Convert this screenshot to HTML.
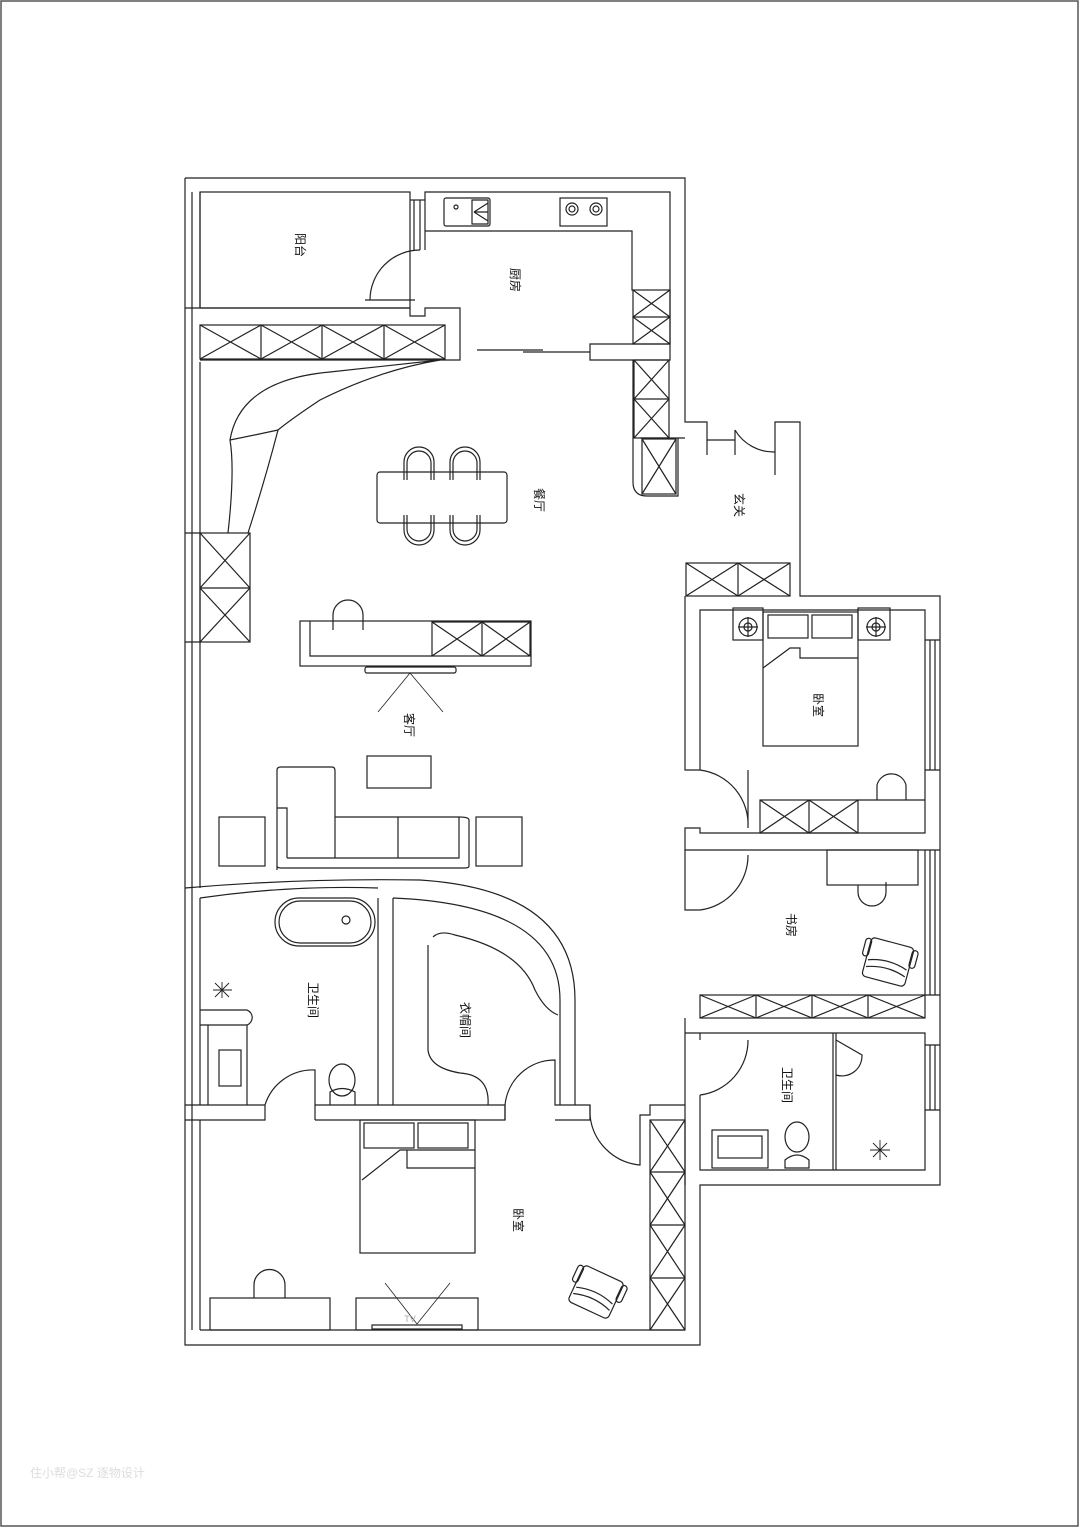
<!DOCTYPE html>
<html><head><meta charset="utf-8"><style>
html,body{margin:0;padding:0;background:#fff;}
svg{display:block;}
text{font-family:"Liberation Sans","Noto Sans CJK SC",sans-serif;font-size:12px;fill:#111;}
</style></head><body>
<svg width="1080" height="1528" viewBox="0 0 1080 1528" xmlns="http://www.w3.org/2000/svg">
<rect x="0" y="0" width="1080" height="1528" fill="#fff"/>
<g fill="none" stroke="#222" stroke-width="1.2">
<path d="M185 178 H685 V422 H707 V440 H735"/>
<path d="M775 440 V422 H800 V596 H940 V1185 H700 V1345 H185 V178"/>
<line x1="192" y1="192" x2="192" y2="1330"/><line x1="200" y1="192" x2="200" y2="308"/>
<line x1="200" y1="362" x2="200" y2="888"/><line x1="200" y1="898" x2="200" y2="1105"/><line x1="200" y1="1120" x2="200" y2="1330"/>
<rect x="200" y="192" width="210" height="116"/>
<line x1="410" y1="200" x2="425" y2="200"/><line x1="414" y1="200" x2="414" y2="250"/><line x1="420" y1="200" x2="420" y2="250"/>
<path d="M370 300 A50 50 0 0 1 420 250"/>
<line x1="365" y1="300" x2="415" y2="300"/>
<path d="M425 250 V192 H670 V344"/>
<path d="M425 231 H632 V290 H633"/>
<rect x="633" y="290" width="37" height="54"/>
<path d="M633 290 L670 317 M670 290 L633 317 M633 317 L670 344 M670 317 L633 344 M633 317 H670"/>
<rect x="444" y="198" width="46" height="28" rx="2"/><circle cx="456" cy="207" r="2"/>
<path d="M472 200 H488 V224 H472 Z M474 212 L488 203 M474 212 L488 221 M474 212 H488"/>
<rect x="560" y="198" width="47" height="28"/><circle cx="572" cy="209" r="6"/><circle cx="572" cy="209" r="3"/><circle cx="596" cy="209" r="6"/><circle cx="596" cy="209" r="3"/>
<path d="M185 308 H410 V316 H425 V308 H460 V360 H200"/>
<rect x="200" y="325" width="245" height="34"/>
<line x1="261" y1="325" x2="261" y2="359"/><line x1="322" y1="325" x2="322" y2="359"/><line x1="384" y1="325" x2="384" y2="359"/>
<path d="M200 325 L261 359 M261 325 L200 359 M261 325 L322 359 M322 325 L261 359 M322 325 L384 359 M384 325 L322 359 M384 325 L445 359 M445 325 L384 359"/>
<path d="M477 350 H543 M523 352 H590 M590 344 H670 V360 H590 Z"/>
<rect x="634" y="360" width="35" height="78"/><line x1="634" y1="399" x2="669" y2="399"/>
<path d="M634 360 L669 399 M669 360 L634 399 M634 399 L669 438 M669 399 L634 438"/>
<path d="M633 360 V482 Q633 496 647 496 H678 V438 H685 M640 438 H678 V496"/>
<rect x="642" y="439" width="34" height="55"/><path d="M642 439 L676 494 M676 439 L642 494"/>
<path d="M707 440 V455 M735 430 A45 45 0 0 0 775 452 M735 430 V455 M775 440 V475"/>
<rect x="686" y="563" width="104" height="33"/><line x1="738" y1="563" x2="738" y2="596"/>
<path d="M686 563 L738 596 M738 563 L686 596 M738 563 L790 596 M790 563 L738 596"/>
<path d="M685 596 V770 H700 V610 H925 V833 H700 V828 H685 V850 H700 V850 H925 V995"/>
<path d="M925 640 H940 M925 770 H940 M930 640 V770 M935 640 V770"/>
<path d="M700 770 A55 55 0 0 1 748 828 M748 828 V770"/>
<rect x="733" y="608" width="30" height="32"/><circle cx="748" cy="627" r="9"/><circle cx="748" cy="627" r="4"/><line x1="738" y1="627" x2="758" y2="627"/><line x1="748" y1="617" x2="748" y2="637"/>
<rect x="858" y="608" width="32" height="32"/><circle cx="876" cy="627" r="9"/><circle cx="876" cy="627" r="4"/><line x1="866" y1="627" x2="886" y2="627"/><line x1="876" y1="617" x2="876" y2="637"/>
<rect x="763" y="612" width="95" height="134"/>
<rect x="768" y="615" width="40" height="23"/><rect x="812" y="615" width="40" height="23"/>
<path d="M763 668 L790 648 H800 V658 H858"/>
<rect x="760" y="800" width="98" height="33"/><line x1="809" y1="800" x2="809" y2="833"/>
<path d="M760 800 L809 833 M809 800 L760 833 M809 800 L858 833 M858 800 L809 833 M858 800 H925"/>
<path d="M877 800 V785 A15 15 0 0 1 906 785 V800"/>
<path d="M685 850 V910 H700 M700 910 A55 55 0 0 0 748 855"/>
<rect x="827" y="850" width="91" height="35"/>
<path d="M858 885 V892 A14 14 0 0 0 886 892 V882"/>
<g transform="rotate(15 888 962)"><rect x="866" y="942" width="44" height="40" rx="4"/><path d="M868 965 Q888 958 908 965 M868 972 Q888 965 908 972"/><rect x="861" y="944" width="6" height="18" rx="3"/><rect x="909" y="944" width="6" height="18" rx="3"/></g>
<path d="M925 850 H940 M925 995 H940 M930 850 V995 M935 850 V995"/>
<rect x="700" y="995" width="225" height="23"/>
<line x1="756" y1="995" x2="756" y2="1018"/><line x1="812" y1="995" x2="812" y2="1018"/><line x1="868" y1="995" x2="868" y2="1018"/>
<path d="M700 995 L756 1018 M756 995 L700 1018 M756 995 L812 1018 M812 995 L756 1018 M812 995 L868 1018 M868 995 L812 1018 M868 995 L925 1018 M925 995 L868 1018"/>
<path d="M685 1018 V1105 M685 1033 H925 V1170 H700 V1095 M700 1033 V1040"/>
<path d="M700 1095 A55 55 0 0 0 748 1040"/>
<path d="M833 1033 V1170 M836 1033 V1170 M836 1040 L862 1055 A20 20 0 0 1 836 1075"/>
<path d="M925 1045 H940 M925 1110 H940 M930 1045 V1110 M935 1045 V1110"/>
<rect x="712" y="1130" width="56" height="38"/><rect x="718" y="1136" width="44" height="22"/>
<ellipse cx="797" cy="1137" rx="12" ry="15"/><path d="M785 1160 Q797 1150 809 1160 V1168 H785 Z"/>
<path d="M870 1150 H890 M880 1140 V1160 M873 1143 L887 1157 M887 1143 L873 1157" stroke-width="0.9"/>
<rect x="200" y="533" width="50" height="109"/><line x1="200" y1="588" x2="250" y2="588"/>
<path d="M200 533 L250 588 M250 533 L200 588 M200 588 L250 642 M250 588 L200 642 M185 533 H200 M185 642 H200"/>
<path d="M228 533 Q235 470 230 440 Q240 380 330 372 L440 360 Q380 370 320 400 Q290 420 278 430 Q265 480 248 533"/>
<path d="M230 440 Q255 435 278 430"/>
<rect x="377" y="472" width="130" height="51" rx="3"/>
<path d="M404 480 V462 A15 15 0 0 1 434 462 V480 M407 480 V463 A12 12 0 0 1 431 463 V480"/>
<path d="M450 480 V462 A15 15 0 0 1 480 462 V480 M453 480 V463 A12 12 0 0 1 477 463 V480"/>
<path d="M404 515 V530 A15 15 0 0 0 434 530 V515 M407 515 V529 A12 12 0 0 0 431 529 V515"/>
<path d="M450 515 V530 A15 15 0 0 0 480 530 V515 M453 515 V529 A12 12 0 0 0 477 529 V515"/>
<rect x="300" y="621" width="231" height="45"/>
<path d="M310 621 V656 H432"/>
<rect x="432" y="622" width="98" height="34"/><line x1="482" y1="622" x2="482" y2="656"/>
<path d="M432 622 L482 656 M482 622 L432 656 M482 622 L530 656 M530 622 L482 656"/>
<path d="M333 630 V615 A15 15 0 0 1 363 615 V630"/>
<rect x="365" y="667" width="91" height="6" rx="2"/>
<path d="M378 712 L410 673 L443 712" stroke-width="0.8"/>
<rect x="367" y="756" width="64" height="32"/>
<path d="M277 870 V770 Q277 767 281 767 H332 Q335 767 335 771 V817 H459 Q469 817 469 820 V866 Q469 868 465 868 H281 Q277 868 277 866"/>
<path d="M287 858 H459 V817 M287 858 V808 H277 M335 817 V858 M398 817 V858"/>
<rect x="219" y="817" width="46" height="49"/><rect x="476" y="817" width="46" height="49"/>
<path d="M185 888 Q300 878 420 880 Q575 890 575 1000 V1105"/>
<path d="M200 898 Q290 885 378 888 M393 898 Q560 905 560 1000 V1105"/>
<path d="M378 898 V1105 M393 898 V1105"/>
<rect x="275" y="898" width="100" height="48" rx="24"/><rect x="279" y="901" width="92" height="42" rx="21"/><circle cx="346" cy="920" r="4"/>
<path d="M200 1010 H247 A8 8 0 0 1 247 1025 H200 M208 1025 V1105 M247 1025 V1105"/>
<rect x="219" y="1050" width="22" height="36"/>
<path d="M213 990 H232 M222 982 V998 M215 983 L229 997 M229 983 L215 997" stroke-width="0.9"/>
<path d="M185 1105 H265 V1120 H185 M265 1105 A50 50 0 0 1 315 1070 V1120 M315 1105 H505 V1120 H315"/>
<ellipse cx="342" cy="1080" rx="13" ry="16"/><path d="M330 1105 V1092 Q342 1085 355 1092 V1105"/>
<path d="M433 937 Q440 930 455 935 Q520 950 535 990 Q545 1010 558 1015 M428 945 V1050 Q430 1068 460 1073 Q490 1075 488 1105"/>
<path d="M505 1105 A50 50 0 0 1 555 1060 V1105 H590 V1120 H555 M505 1120 V1105"/>
<path d="M590 1105 V1115 A55 55 0 0 0 640 1165 V1115 H650 V1105 H685 V1185"/>
<rect x="650" y="1120" width="35" height="210"/>
<line x1="650" y1="1172" x2="685" y2="1172"/><line x1="650" y1="1225" x2="685" y2="1225"/><line x1="650" y1="1278" x2="685" y2="1278"/>
<path d="M650 1120 L685 1172 M685 1120 L650 1172 M650 1172 L685 1225 M685 1172 L650 1225 M650 1225 L685 1278 M685 1225 L650 1278 M650 1278 L685 1330 M685 1278 L650 1330"/>
<line x1="200" y1="1330" x2="685" y2="1330"/>
<rect x="360" y="1120" width="115" height="133"/>
<rect x="364" y="1123" width="50" height="25"/><rect x="418" y="1123" width="50" height="25"/>
<path d="M362 1180 L400 1150 H475 M407 1150 V1168 H475"/>
<rect x="210" y="1298" width="120" height="32"/>
<path d="M254 1298 V1285 A15 15 0 0 1 285 1285 V1298"/>
<rect x="356" y="1298" width="122" height="32"/>
<rect x="372" y="1325" width="90" height="4"/>
<path d="M385 1283 L417 1324 L450 1283" stroke-width="0.8"/>
<g transform="rotate(25 596 1292)"><rect x="574" y="1272" width="44" height="40" rx="4"/><path d="M576 1296 Q596 1289 616 1296 M576 1303 Q596 1296 616 1303"/><rect x="569" y="1274" width="6" height="18" rx="3"/><rect x="617" y="1274" width="6" height="18" rx="3"/></g>
</g>
<g>
<text transform="translate(296,245) rotate(90)" text-anchor="middle">阳台</text>
<text transform="translate(511,280) rotate(90)" text-anchor="middle">厨房</text>
<text transform="translate(535,500) rotate(90)" text-anchor="middle">餐厅</text>
<text transform="translate(735,505) rotate(90)" text-anchor="middle">玄关</text>
<text transform="translate(814,705) rotate(90)" text-anchor="middle">卧室</text>
<text transform="translate(787,925) rotate(90)" text-anchor="middle">书房</text>
<text transform="translate(783,1085) rotate(90)" text-anchor="middle">卫生间</text>
<text transform="translate(405,725) rotate(90)" text-anchor="middle">客厅</text>
<text transform="translate(309,1000) rotate(90)" text-anchor="middle">卫生间</text>
<text transform="translate(461,1020) rotate(90)" text-anchor="middle">衣帽间</text>
<text transform="translate(514,1220) rotate(90)" text-anchor="middle">卧室</text>
<text x="410" y="1322" text-anchor="middle" style="font-size:9px;fill:#aaa">TV</text>
<text x="30" y="1477" style="font-size:12px;fill:#ddd">住小帮@SZ 逐物设计</text>
</g>
<rect x="1" y="1" width="1077" height="1525" fill="none" stroke="#555" stroke-width="1.5"/>
</svg>
</body></html>
